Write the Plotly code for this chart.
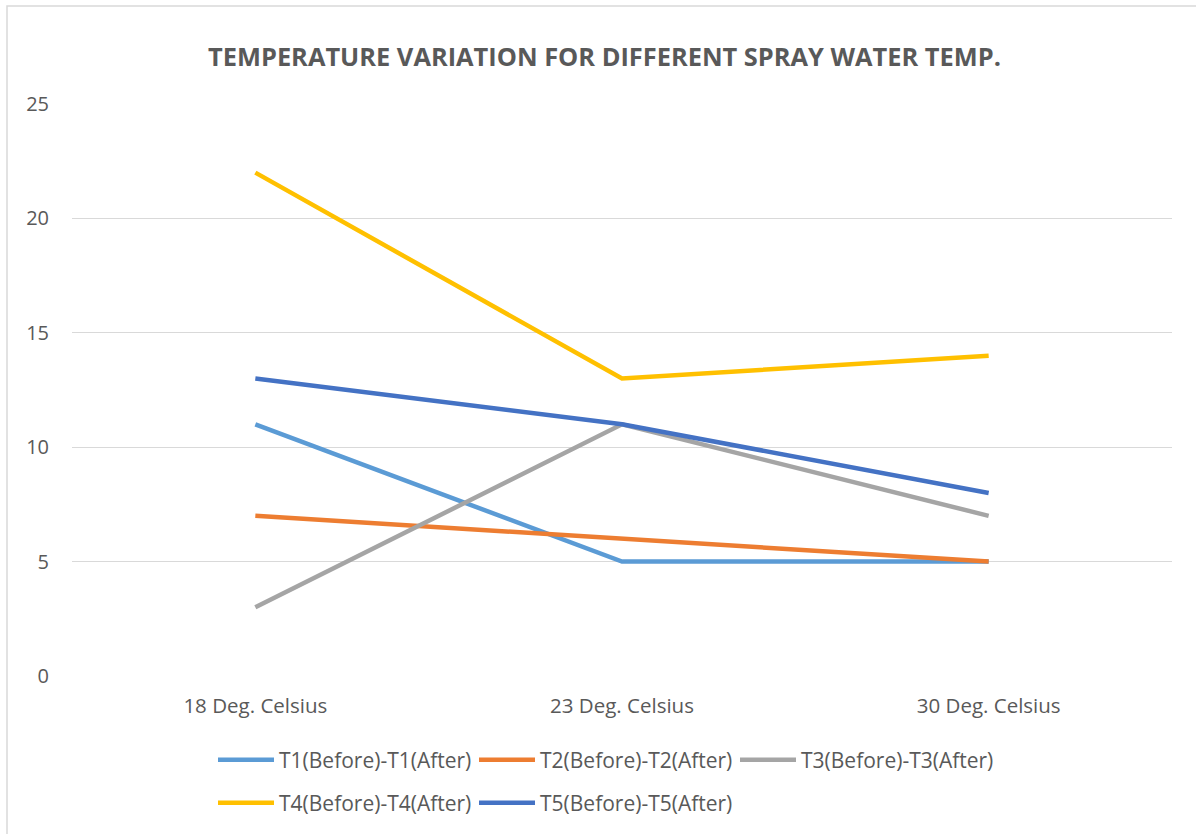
import plotly.graph_objects as go

categories = ["18 Deg. Celsius", "23 Deg. Celsius", "30 Deg. Celsius"]
t1 = [11, 5, 5]
t2 = [7, 6, 5]
t3 = [3, 11, 7]
t4 = [22, 13, 14]
t5 = [13, 11, 8]
names = ["T1(Before)-T1(After)", "T2(Before)-T2(After)", "T3(Before)-T3(After)",
         "T4(Before)-T4(After)", "T5(Before)-T5(After)"]
colors = ["#5B9BD5", "#ED7D31", "#A5A5A5", "#FFC000", "#4472C4"]
series = [t1, t2, t3, t4, t5]
y_ticks = [0, 5, 10, 15, 20, 25]

W, H = 1196, 834
L, R, T, B = 72, 24, 104, 158
FONT = "'Open Sans', sans-serif"

fig = go.Figure()
for i, (nm, col, vals) in enumerate(zip(names, colors, series)):
    fig.add_trace(go.Scatter(
        x=categories, y=vals, name=nm, mode="lines",
        line=dict(color=col, width=4.5),
        legend="legend" if i < 3 else "legend2",
    ))

pw = W - L - R
ph = H - T - B
def px_x(x):
    return (x - L) / pw
def px_y(y):
    return (H - B - y) / ph

legend_common = dict(
    orientation="h", font=dict(family=FONT, size=21, color="#595959"),
    itemwidth=56, entrywidth=190, entrywidthmode="pixels",
    xanchor="left", yanchor="middle", bgcolor="rgba(0,0,0,0)",
    tracegroupgap=0, itemclick=False,
)
fig.update_layout(
    width=W, height=H,
    margin=dict(l=L, r=R, t=T, b=B, autoexpand=False),
    paper_bgcolor="white", plot_bgcolor="white",
    title=dict(text="<b>TEMPERATURE VARIATION FOR DIFFERENT SPRAY WATER TEMP.</b>",
               x=(209 + 1000) / 2 / W, xanchor="center", y=1 - 57 / H, yanchor="middle",
               font=dict(family=FONT, size=25.4, color="#595959")),
    xaxis=dict(type="category", range=[-0.5, 2.5], showgrid=False, showline=False,
               zeroline=False, ticks="", tickfont=dict(family=FONT, size=20.5, color="#595959"),
               ticklabelstandoff=15),
    yaxis=dict(range=[0, 25], tickvals=y_ticks, showgrid=True, gridcolor="#D9D9D9",
               gridwidth=1, zeroline=False, showline=False, ticks="",
               tickfont=dict(family=FONT, size=20, color="#595959"), ticklabelstandoff=22),
    legend=dict(x=px_x(213), y=px_y(760), **legend_common),
    legend2=dict(x=px_x(213), y=px_y(803), **legend_common),
    showlegend=True,
)
fig.add_shape(type="rect", xref="paper", yref="paper",
              x0=px_x(7), x1=px_x(1210), y0=px_y(850), y1=px_y(6),
              line=dict(color="#D9D9D9", width=1.5), fillcolor="rgba(0,0,0,0)", layer="below")

fig.write_html("out.html", config={"displayModeBar": False},
               post_script="document.body.style.margin='0';document.body.style.overflow='hidden';")
